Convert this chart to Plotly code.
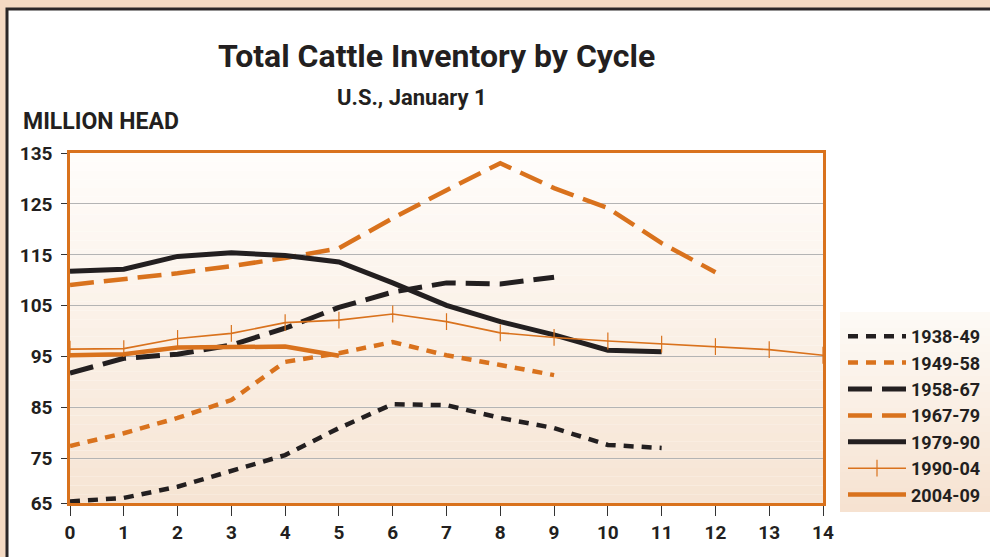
import plotly.graph_objects as go

# ---- data ----
x_ticks = list(range(15))
x_labels = [str(i) for i in x_ticks]
y_tickvals = [66.3, 75, 85, 95, 105, 115, 125, 135]
y_ticktext = ["65", "75", "85", "95", "105", "115", "125", "135"]

c1938_49 = [66.6, 67.3, 69.5, 72.5, 75.7, 81.0, 85.7, 85.5, 83.0, 81.0, 77.7, 77.1]
c1949_58 = [77.5, 80.0, 83.0, 86.5, 94.0, 95.7, 97.9, 95.3, 93.4, 91.4]
c1958_67 = [91.8, 94.7, 95.5, 97.3, 100.6, 104.7, 107.7, 109.5, 109.3, 110.6]
c1967_79 = [109.1, 110.2, 111.4, 112.8, 114.4, 116.3, 122.2, 127.7, 133.0, 128.1, 124.2, 117.3, 111.6]
c1979_90 = [111.8, 112.2, 114.7, 115.4, 114.9, 113.6, 109.5, 105.1, 101.9, 99.3, 96.3, 96.0]
c1990_04 = [96.5, 96.6, 98.6, 99.6, 101.7, 102.2, 103.4, 101.9, 99.7, 98.8, 98.1, 97.5, 97.0, 96.4, 95.3]
c2004_09 = [95.3, 95.5, 96.8, 97.0, 97.0, 95.2]

ORANGE = "#d9721d"
BLACK = "#231f20"
FONT = "Roboto, 'Liberation Sans Narrow', 'DejaVu Sans Condensed', Arial, sans-serif"

fig = go.Figure()

def add(name, vals, color, width, dash, marker=None):
    kw = {}
    mode = "lines"
    if marker:
        mode = "lines+markers"
        kw["marker"] = marker
    fig.add_trace(go.Scatter(
        x=list(range(len(vals))), y=vals, name=name, mode=mode,
        line=dict(color=color, width=width, dash=dash), **kw))

add("1938-49", c1938_49, BLACK, 4.5, "10px,8px")
add("1949-58", c1949_58, ORANGE, 4.5, "10px,8px")
add("1958-67", c1958_67, BLACK, 5, "24px,10px")
add("1967-79", c1967_79, ORANGE, 4.5, "24px,10px")
add("1979-90", c1979_90, BLACK, 5, "solid")
add("1990-04", c1990_04, ORANGE, 1.6, "solid",
    marker=dict(symbol="line-ns-open", size=12, color=ORANGE, line=dict(color=ORANGE, width=1.2)))
add("2004-09", c2004_09, ORANGE, 4.5, "solid")

# ---- background / frame shapes ----
FW, FH = 990, 557
L, R, T, B = 70, 823, 153, 503
W = R - L
H = B - T

def px_x(p):
    return (p - L) / W

def px_y(p):
    return (B - p) / H

shapes = []
# white panel with dark frame
shapes.append(dict(type="rect", xref="paper", yref="paper",
                   x0=px_x(7), x1=px_x(1010), y0=px_y(580), y1=px_y(9),
                   fillcolor="white", line=dict(color="#2a2627", width=3), layer="below"))

def lerp(c1, c2, t):
    return "rgb(%d,%d,%d)" % tuple(round(a + (b - a) * t) for a, b in zip(c1, c2))

top_c = (246, 228, 211)
bot_c = (255, 253, 251)
N = 40
for i in range(N):
    y0 = i / N
    y1 = (i + 1) / N
    t = 1 - (i + 0.5) / N
    shapes.append(dict(type="rect", xref="paper", yref="paper", x0=0, x1=1, y0=y0, y1=y1,
                       fillcolor=lerp(top_c, bot_c, 1 - t), line=dict(width=0), layer="below"))

# legend background gradient (light at top, peach at bottom)
lg_top, lg_bot = 312, 512
leg_top_c = (253, 250, 246)
leg_bot_c = (246, 226, 208)
M = 25
for i in range(M):
    p0 = lg_top + (lg_bot - lg_top) * i / M
    p1 = lg_top + (lg_bot - lg_top) * (i + 1) / M
    shapes.append(dict(type="rect", xref="paper", yref="paper",
                       x0=px_x(840), x1=px_x(1000), y0=px_y(p1), y1=px_y(p0),
                       fillcolor=lerp(leg_top_c, leg_bot_c, (i + 0.5) / M),
                       line=dict(width=0), layer="below"))

annotations = [
    dict(text="Total Cattle Inventory by Cycle", xref="paper", yref="paper",
         x=px_x(436), y=px_y(56), xanchor="center", yanchor="middle", showarrow=False,
         font=dict(family=FONT, size=32, color=BLACK, weight="bold")),
    dict(text="U.S., January 1", xref="paper", yref="paper",
         x=px_x(412), y=px_y(97), xanchor="center", yanchor="middle", showarrow=False,
         font=dict(family=FONT, size=22, color=BLACK, weight="bold")),
    dict(text="MILLION HEAD", xref="paper", yref="paper",
         x=px_x(21), y=px_y(121), xanchor="left", yanchor="middle", showarrow=False,
         font=dict(family=FONT, size=23, color=BLACK, weight="bold")),
]

fig.update_layout(
    width=FW, height=FH,
    margin=dict(l=L, r=FW - R, t=T, b=FH - B, pad=0, autoexpand=False),
    paper_bgcolor="#f4d9c2",
    plot_bgcolor="rgba(0,0,0,0)",
    shapes=shapes,
    annotations=annotations,
    showlegend=True,
    legend=dict(xref="container", yref="container",
                x=843 / FW, y=1 - 318 / FH, xanchor="left", yanchor="top",
                bgcolor="rgba(0,0,0,0)", itemwidth=58, tracegroupgap=0,
                font=dict(family=FONT, size=18, color=BLACK, weight="bold")),
    font=dict(family=FONT, color=BLACK),
)

fig.update_xaxes(range=[0, 14], tickvals=x_ticks, ticktext=x_labels,
                 showgrid=False, zeroline=False,
                 showline=True, linecolor=ORANGE, linewidth=2.5, mirror=True,
                 ticks="outside", ticklen=10, tickwidth=1.3, tickcolor="#333",
                 tickfont=dict(family=FONT, size=19, color=BLACK, weight="bold"))
fig.update_yaxes(range=[66.3, 135], tickvals=y_tickvals, ticktext=y_ticktext,
                 showgrid=True, gridcolor="#b4b4b4", gridwidth=1.2, zeroline=False,
                 showline=True, linecolor=ORANGE, linewidth=2.5, mirror=True,
                 ticks="outside", ticklen=6, tickwidth=1.3, tickcolor="#333",
                 ticklabelstandoff=5,
                 tickfont=dict(family=FONT, size=19, color=BLACK, weight="bold"))

fig.write_html("out.html", config={"displayModeBar": False},
               post_script="document.body.style.margin='0px';document.body.style.overflow='hidden';")
